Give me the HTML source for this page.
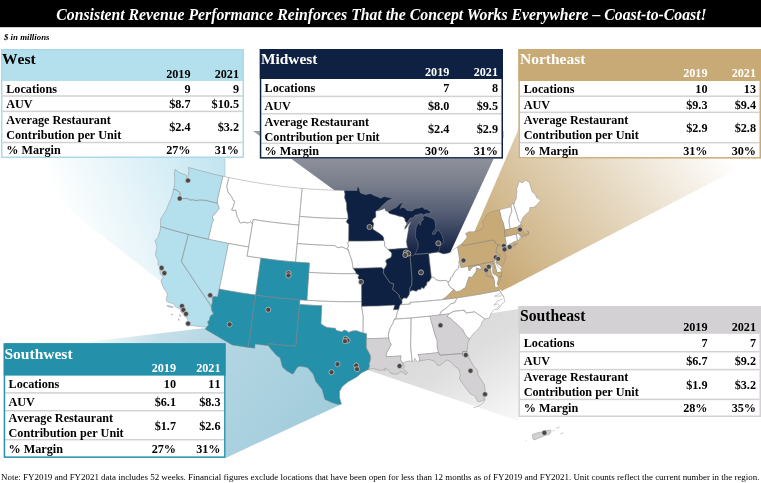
<!DOCTYPE html>
<html lang="en">
<head>
<meta charset="utf-8">
<title>Consistent Revenue Performance Reinforces That the Concept Works Everywhere – Coast-to-Coast!</title>
<style>
html,body{margin:0;padding:0;background:#fff;}
body{width:761px;height:483px;position:relative;overflow:hidden;font-family:"Liberation Serif",serif;color:#000;}
#title{position:absolute;left:-99px;top:0;width:961px;height:27px;margin:0;color:#fff;font-style:italic;font-weight:bold;font-size:17.6px;line-height:28.2px;text-align:center;white-space:nowrap;transform:scaleX(0.895);transform-origin:480.5px 0;}
#units{position:absolute;left:4px;top:32.3px;font-style:italic;font-weight:bold;font-size:8.8px;line-height:10px;white-space:nowrap;}
#note{position:absolute;left:1px;top:472px;font-size:8.93px;line-height:10px;white-space:nowrap;margin:0;}
#art{position:absolute;left:0;top:0;width:761px;height:483px;}
.st{stroke:#888;stroke-width:0.45;stroke-linejoin:round;}
.dot{fill:#4b4646;stroke:#dcdcdc;stroke-opacity:0.85;stroke-width:0.7;}
.tbl{position:absolute;}
.t{position:absolute;margin:0;white-space:nowrap;font-weight:bold;line-height:1;font-kerning:none;}
.t.h{font-size:16px;}
.t.c{font-size:12.2px;}
</style>
</head>
<body>
<svg id="art" width="761" height="483" viewBox="0 0 761 483">
<defs>
<linearGradient id="gW" gradientUnits="userSpaceOnUse" x1="70" y1="235" x2="228" y2="172"><stop offset="0" stop-color="#ffffff"/><stop offset="1" stop-color="#c2e5f1"/></linearGradient>
<linearGradient id="gM" gradientUnits="userSpaceOnUse" x1="0" y1="131" x2="0" y2="255"><stop offset="0.000" stop-color="#9c9ea7"/><stop offset="0.218" stop-color="#8e919a"/><stop offset="0.435" stop-color="#787d8b"/><stop offset="0.677" stop-color="#525b72"/><stop offset="0.879" stop-color="#283553"/><stop offset="1.000" stop-color="#101f40"/></linearGradient>
<linearGradient id="gN" gradientUnits="userSpaceOnUse" x1="470" y1="300" x2="700" y2="120"><stop offset="0" stop-color="#c8aa76"/><stop offset="0.13" stop-color="#c8aa76"/><stop offset="1" stop-color="#ffffff"/></linearGradient>
<linearGradient id="gS" gradientUnits="userSpaceOnUse" x1="440" y1="330" x2="503" y2="435"><stop offset="0" stop-color="#dadada"/><stop offset="0.3" stop-color="#dedede"/><stop offset="1" stop-color="#fafafa"/></linearGradient>
<linearGradient id="gSW" gradientUnits="userSpaceOnUse" x1="77" y1="343" x2="270.6" y2="488.2"><stop offset="0" stop-color="#ffffff"/><stop offset="0.256" stop-color="#c5dfe9"/><stop offset="0.45" stop-color="#b5d6e3"/><stop offset="0.77" stop-color="#aad1df"/><stop offset="1" stop-color="#a2ccdc"/></linearGradient>
</defs>
<rect id="titlebar" x="0" y="0" width="761" height="27.2" fill="#000"/>
<g id="beams">
<polygon fill="url(#gW)" points="2,158 225,158 225,200 200,312"/>
<polygon fill="url(#gM)" points="253,131 503.5,131 503.5,137.5 450,253 420,262 352,245 352,203"/>
<polygon fill="url(#gN)" points="519,128 761,157 502,291 480,275 466.5,250"/>
<polygon fill="url(#gS)" points="518.5,309 518.5,420.8 366,369.5 380,331"/>
<polygon fill="url(#gSW)" points="3.8,351.7 205,328 300,330 342,404 225.6,457.9 100,400"/>
</g>
<g id="map">
<path fill="#fff" d="M497.9,285.3L497.9,287.2L495.7,287.4L494.5,285.3L494.6,281.9L493.8,278.3L491.3,276.9L488.2,276.1L491.2,276.4L492.6,276.1L491.4,273.5L490.6,269.9L490.6,266.5L492.9,263.2L492.7,265.7L492.7,269.4L492.8,273.2L496.2,275.4L498.4,277.3L498.2,279.7L497.2,283.7Z"/><path fill="#fff" d="M496.6,260.1L495.8,262.6L497.9,266.4L500.6,268.7L501.8,267.2L499.5,265.1L496.4,262.9Z"/>
<path class="st" fill="#fff" d="M222.8,176.2L228.8,177.5L226.8,186.4L227.9,191.8L229.9,194.6L231.7,196.8L233.3,200.6L234.8,201.2L233.3,206.5L231.6,210.0L234.5,210.5L235.6,209.9L236.2,211.8L237.2,217.0L238.4,218.7L239.6,222.3L240.8,223.0L244.3,222.2L247.5,223.0L249.6,222.4L250.5,221.5L251.6,222.9L252.4,224.3L248.6,246.9L241.9,245.8L235.1,244.6L228.4,243.4L221.7,242.0L215.0,240.7L208.3,239.2L212.0,222.9L212.7,221.6L213.6,219.9L212.9,218.8L212.3,216.8L213.9,214.3L215.5,213.2L217.3,210.7L219.1,208.8L218.9,207.3L217.9,204.7L217.3,203.2L217.5,199.1ZM228.8,177.5L234.8,178.7L240.9,179.9L247.0,181.0L253.0,182.1L259.2,183.1L265.3,184.1L271.4,184.9L277.5,185.7L283.7,186.5L289.8,187.2L296.0,187.8L302.1,188.4L299.6,216.3L298.8,225.0L292.2,224.4L285.7,223.7L279.2,223.0L272.6,222.2L266.1,221.4L259.6,220.4L253.2,219.4L252.4,224.3L251.6,222.9L250.5,221.5L249.6,222.4L247.5,223.0L244.3,222.2L240.8,223.0L239.6,222.3L238.4,218.7L237.2,217.0L236.2,211.8L235.6,209.9L234.5,210.5L231.6,210.0L233.3,206.5L234.8,201.2L233.3,200.6L231.7,196.8L229.9,194.6L227.9,191.8L226.8,186.4ZM260.9,258.1L254.0,257.2L247.1,256.1L248.6,246.9L252.4,224.3L253.2,219.4L259.6,220.4L266.1,221.4L272.6,222.2L279.2,223.0L285.7,223.7L292.2,224.4L298.8,225.0L297.2,243.5L295.5,262.0L288.6,261.4L281.6,260.7L274.7,259.9L267.8,259.1ZM228.4,243.4L235.1,244.6L241.9,245.8L248.6,246.9L247.1,256.1L254.0,257.2L260.9,258.1L255.6,295.1L248.3,294.0L241.0,292.9L233.7,291.7L226.5,290.5L219.2,289.1ZM302.1,188.4L308.1,188.8L314.1,189.3L320.2,189.6L326.2,189.9L332.2,190.1L338.2,190.3L344.3,190.4L345.0,194.1L344.6,197.7L346.5,203.3L346.7,209.7L347.9,214.8L348.1,218.6L341.2,218.5L334.3,218.3L327.3,218.1L320.4,217.8L313.5,217.4L306.5,216.9L299.6,216.3ZM297.2,243.5L298.8,225.0L299.6,216.3L306.5,216.9L313.5,217.4L320.4,217.8L327.3,218.1L334.3,218.3L341.2,218.5L348.1,218.6L346.2,221.7L348.8,224.5L348.6,241.1L347.6,243.3L348.6,245.8L347.4,248.3L348.6,250.5L346.2,248.8L342.1,246.9L338.0,247.8L334.7,245.6L328.4,245.4L322.2,245.1L315.9,244.8L309.7,244.4L303.4,244.0ZM308.8,272.3L309.4,263.0L302.5,262.6L295.5,262.0L297.2,243.5L303.4,244.0L309.7,244.4L315.9,244.8L322.2,245.1L328.4,245.4L334.7,245.6L338.0,247.8L342.1,246.9L346.2,248.8L348.6,250.5L349.2,253.2L350.9,257.9L352.1,261.6L352.6,265.3L353.2,268.3L355.4,271.4L356.4,273.7L349.6,273.7L342.8,273.7L336.0,273.5L329.2,273.3L322.4,273.1L315.6,272.7ZM306.9,300.3L308.8,272.3L315.6,272.7L322.4,273.1L329.2,273.3L336.0,273.5L342.8,273.7L349.6,273.7L356.4,273.7L359.0,275.1L357.9,277.9L361.5,281.9L361.6,301.6L353.8,301.7L346.0,301.7L338.2,301.6L330.3,301.4L322.5,301.1L314.7,300.7ZM299.9,299.8L306.9,300.3L314.7,300.7L322.5,301.1L330.3,301.4L338.2,301.6L346.0,301.7L353.8,301.7L361.6,301.6L361.6,306.3L363.2,316.5L363.0,332.9L359.7,331.9L356.7,330.8L352.8,330.9L348.6,332.4L346.7,331.0L344.0,330.1L342.1,331.9L336.3,330.4L335.2,328.3L331.4,328.0L326.8,327.4L323.1,325.4L320.9,323.8L321.7,305.7L314.3,305.4L306.9,304.9L299.5,304.4ZM348.6,250.5L347.4,248.3L348.6,245.8L347.6,243.3L348.6,241.1L355.7,241.1L362.7,241.1L369.7,240.9L376.8,240.7L383.8,240.4L384.8,243.1L384.4,245.9L386.4,248.1L388.1,249.4L389.9,251.2L391.8,253.0L391.6,255.8L390.6,257.7L386.9,259.3L385.6,261.2L386.8,264.0L385.9,266.3L383.8,269.4L381.5,267.5L374.4,267.8L367.3,268.0L360.3,268.2L353.2,268.3L352.6,265.3L352.1,261.6L350.9,257.9L349.2,253.2ZM363.0,332.9L363.2,316.5L361.6,306.3L369.9,306.1L378.2,305.9L386.5,305.5L394.8,305.1L393.4,309.8L398.4,309.5L397.1,312.9L396.1,317.8L394.4,319.1L392.8,323.4L390.3,327.7L389.0,331.5L388.4,335.3L388.7,338.0L381.3,338.3L373.9,338.5L366.5,338.6L366.4,333.7ZM406.9,224.0L405.1,226.4L404.6,229.2L406.2,228.2L408.2,224.8L410.9,221.7L408.7,226.6L408.1,231.3L407.2,236.5L406.3,241.7L407.5,248.1L401.1,248.6L394.6,249.1L388.1,249.4L386.4,248.1L384.4,245.9L384.8,243.1L383.8,240.4L383.5,237.6L382.4,235.8L379.0,233.2L376.2,231.4L372.8,229.2L373.1,226.4L373.6,223.2L372.1,221.4L372.9,219.1L375.8,216.9L375.6,211.5L376.8,210.6L377.4,211.0L381.9,209.7L384.7,208.4L385.4,210.7L387.8,211.7L389.8,213.6L396.4,215.2L398.4,216.0L403.0,216.9L405.1,219.0L405.0,221.3L406.3,221.7ZM438.0,252.0L441.3,253.3L443.5,253.9L446.9,253.4L450.3,252.4L453.3,249.6L457.6,246.8L459.6,259.1L459.1,261.4L459.1,264.6L458.6,268.1L454.9,271.4L453.2,274.6L452.4,276.6L450.4,277.8L450.1,280.7L448.0,281.8L446.0,280.3L443.5,280.5L440.3,280.8L436.1,279.8L433.7,277.2L431.4,277.5L428.6,253.4ZM400.3,304.7L402.1,303.2L401.9,300.1L403.6,297.9L406.9,298.2L409.2,294.7L409.7,291.8L412.5,290.2L416.2,291.3L418.3,289.4L420.5,289.6L421.7,287.5L424.0,288.6L425.2,286.0L426.3,285.6L427.3,281.7L429.1,281.5L431.4,277.5L433.7,277.2L436.1,279.8L440.3,280.8L443.5,280.5L446.0,280.3L448.0,281.8L448.5,284.7L451.1,288.1L453.7,289.2L451.7,291.8L449.0,294.1L446.4,296.8L442.5,299.6L434.4,300.4L426.3,301.1L418.2,301.8L410.0,302.3L410.3,304.0ZM394.4,319.1L396.1,317.8L397.1,312.9L398.4,309.5L399.1,308.1L399.3,306.6L400.3,304.7L410.3,304.0L410.0,302.3L418.2,301.8L426.3,301.1L434.4,300.4L442.5,299.6L449.8,298.7L457.1,297.7L454.7,302.7L451.1,303.7L447.7,306.7L445.0,309.0L441.5,311.0L439.5,315.0L429.9,316.1L423.4,316.8L416.8,317.4L410.3,318.0L402.4,318.6ZM412.1,361.2L408.1,361.0L404.9,362.0L402.6,363.2L400.3,359.2L401.1,355.9L393.6,356.4L386.2,356.7L386.1,354.9L387.5,351.1L389.4,347.8L391.2,344.4L389.5,341.7L388.7,338.0L388.4,335.3L389.0,331.5L390.3,327.7L392.8,323.4L394.4,319.1L402.4,318.6L410.3,318.0L411.1,318.9L410.6,346.9ZM419.4,361.2L417.3,361.4L416.1,360.4L414.7,358.2L414.5,361.4L412.1,361.2L410.6,346.9L411.1,318.9L410.3,318.0L416.8,317.4L423.4,316.8L429.9,316.1L435.2,335.5L437.2,340.6L437.2,347.1L438.6,352.6L431.7,353.3L424.9,354.0L418.0,354.6L419.9,358.2ZM484.6,318.8L481.7,322.3L480.8,325.8L478.2,329.1L476.2,331.3L472.7,334.3L469.8,338.7L467.3,337.5L464.8,334.1L463.0,330.1L459.4,326.7L457.1,324.4L453.6,321.6L450.8,318.4L447.2,316.9L448.7,313.9L453.7,311.3L463.8,310.2L464.0,311.2L464.8,310.6L466.3,313.0L474.7,311.8ZM499.6,290.4L503.9,297.1L504.7,301.9L501.5,304.3L498.3,309.2L494.1,309.6L491.0,313.5L489.2,318.1L484.6,318.8L474.7,311.8L466.3,313.0L464.8,310.6L464.0,311.2L463.8,310.2L453.7,311.3L448.7,313.9L439.5,315.0L441.5,311.0L445.0,309.0L447.7,306.7L451.1,303.7L454.7,302.7L457.1,297.7L457.2,297.8L464.3,296.7L471.3,295.6L478.4,294.4L485.5,293.1L492.6,291.8ZM448.0,281.8L450.1,280.7L450.4,277.8L452.4,276.6L453.2,274.6L454.9,271.4L458.6,268.1L459.1,264.6L459.1,261.4L459.6,259.1L461.0,267.6L468.3,266.3L469.1,271.1L471.4,268.3L473.2,266.6L476.0,265.9L477.3,265.1L479.9,265.4L481.3,267.7L480.8,269.6L476.7,267.9L476.0,271.8L474.1,274.4L472.0,277.4L468.9,277.1L467.7,280.8L465.7,286.8L465.9,287.7L464.1,288.3L461.8,290.1L459.5,291.2L456.3,292.1L453.7,289.2L451.1,288.1L448.5,284.7ZM496.6,260.1L495.8,262.6L497.9,266.4L500.6,268.7L501.7,271.8L497.1,272.8L494.0,261.4L495.1,260.1ZM517.5,240.5L513.3,242.1L509.5,244.2L506.1,246.6L505.3,245.6L506.2,243.5L504.8,236.7L510.5,235.4L516.2,234.1ZM521.9,237.7L520.9,238.4L519.9,237.2L519.8,239.5L517.5,240.5L516.2,234.1L519.0,233.4L519.3,234.5L519.9,235.5L521.0,236.2ZM499.4,209.8L505.3,208.3L511.2,206.8L511.8,211.5L509.8,215.9L509.1,219.9L509.1,222.7L509.7,226.4L510.2,228.9L504.8,230.0L503.2,222.7L501.3,218.9L500.5,214.3ZM521.0,222.8L520.7,224.8L519.5,225.1L518.2,226.8L510.2,228.9L509.7,226.4L509.1,222.7L509.1,219.9L509.8,215.9L511.8,211.5L511.2,206.8L511.3,204.7L513.2,203.5L516.1,212.3L517.4,216.7L518.6,220.8ZM540.6,200.4L537.3,204.3L534.0,207.3L529.9,207.5L529.5,211.0L525.7,214.5L523.0,217.2L521.7,220.4L521.0,222.8L518.6,220.8L517.4,216.7L516.1,212.3L513.2,203.5L514.8,203.6L514.6,201.9L516.4,198.3L516.4,194.5L517.0,192.0L516.6,189.2L519.4,181.2L520.9,182.3L522.1,182.9L525.3,180.4L529.1,182.0L532.2,191.9L535.2,194.3L536.6,197.8L540.0,199.6Z"/>
<path class="st" fill="#b4e0ee" d="M188.5,167.4L194.2,169.0L199.9,170.6L205.6,172.0L211.3,173.5L217.1,174.9L222.8,176.2L217.5,199.1L217.3,203.2L204.3,200.1L202.5,200.3L200.3,199.9L196.0,200.6L193.2,199.8L189.5,200.0L187.7,198.5L184.5,198.6L182.7,198.7L179.8,196.9L180.1,194.8L180.1,192.7L178.5,191.5L176.8,190.2L173.4,189.1L174.4,187.2L174.4,184.8L174.6,182.4L174.9,179.1L174.3,173.7L175.1,169.3L178.4,172.0L182.4,173.9L186.2,175.0L186.6,177.3L185.8,180.9L185.7,182.8L186.8,181.2L187.7,177.6L188.6,174.1L189.0,170.4ZM160.6,226.6L160.5,222.7L160.8,218.5L163.3,214.8L166.4,209.9L168.7,203.8L171.0,198.7L173.0,192.5L173.4,189.1L176.8,190.2L178.5,191.5L180.1,192.7L180.1,194.8L179.8,196.9L182.7,198.7L184.5,198.6L187.7,198.5L189.5,200.0L193.2,199.8L196.0,200.6L200.3,199.9L202.5,200.3L204.3,200.1L217.3,203.2L217.9,204.7L218.9,207.3L219.1,208.8L217.3,210.7L215.5,213.2L213.9,214.3L212.3,216.8L212.9,218.8L213.6,219.9L212.7,221.6L212.0,222.9L208.3,239.2L201.6,237.7L195.0,236.1L188.4,234.4L181.5,232.6L174.5,230.7L167.5,228.7ZM187.7,325.1L187.4,322.0L187.5,319.6L184.1,314.1L180.7,311.8L180.6,309.1L175.6,306.8L173.3,303.8L167.0,301.7L166.3,300.5L166.7,297.3L167.4,295.0L166.3,291.8L164.0,288.8L161.2,282.2L161.6,279.4L163.2,277.9L162.2,276.1L160.0,273.1L160.1,270.3L160.9,267.6L157.9,264.8L158.3,261.0L155.5,255.3L155.9,251.5L157.0,247.9L156.1,243.8L155.0,240.5L158.0,237.5L158.4,235.2L160.0,231.3L160.6,226.6L167.5,228.7L174.5,230.7L181.5,232.6L188.4,234.4L181.3,261.5L211.3,306.6L211.4,308.5L212.2,311.5L213.6,313.9L211.4,315.1L210.1,316.8L209.3,320.4L207.7,321.5L208.6,325.0L206.4,327.3ZM188.4,234.4L195.0,236.1L201.6,237.7L208.3,239.2L215.0,240.7L221.7,242.0L228.4,243.4L219.2,289.1L217.7,296.9L215.1,296.4L212.4,297.1L212.5,302.1L211.3,306.6L181.3,261.5Z"/>
<path class="st" fill="#2490a9" d="M248.1,347.4L232.2,345.0L205.3,329.2L206.4,327.3L208.6,325.0L207.7,321.5L209.3,320.4L210.1,316.8L211.4,315.1L213.6,313.9L212.2,311.5L211.4,308.5L211.3,306.6L212.5,302.1L212.4,297.1L215.1,296.4L217.7,296.9L219.2,289.1L226.5,290.5L233.7,291.7L241.0,292.9L248.3,294.0L255.6,295.1ZM268.4,345.7L255.2,344.1L254.7,348.2L248.1,347.4L255.6,295.1L262.9,296.1L270.3,297.0L277.7,297.8L285.1,298.5L292.5,299.2L299.9,299.8L299.5,304.4L295.8,346.2L288.8,345.6L281.8,345.0L274.9,344.3L267.9,343.6ZM255.6,295.1L260.9,258.1L267.8,259.1L274.7,259.9L281.6,260.7L288.6,261.4L295.5,262.0L302.5,262.6L309.4,263.0L308.8,272.3L306.9,300.3L299.9,299.8L292.5,299.2L285.1,298.5L277.7,297.8L270.3,297.0L262.9,296.1ZM341.3,403.9L338.3,404.6L332.4,402.8L324.9,399.5L322.0,389.3L315.7,381.6L313.2,374.1L307.5,367.6L300.3,366.3L297.3,367.3L293.2,374.0L291.6,373.7L286.2,370.5L282.4,366.9L280.1,357.9L276.3,355.2L270.6,348.8L268.4,345.7L267.9,343.6L274.9,344.3L281.8,345.0L288.8,345.6L295.8,346.2L299.5,304.4L306.9,304.9L314.3,305.4L321.7,305.7L320.9,323.8L323.1,325.4L326.8,327.4L331.4,328.0L335.2,328.3L336.3,330.4L342.1,331.9L344.0,330.1L346.7,331.0L348.6,332.4L352.8,330.9L356.7,330.8L359.7,331.9L363.0,332.9L366.4,333.7L366.5,338.6L366.6,348.2L368.6,351.8L370.6,355.6L370.7,359.1L369.4,363.8L369.7,366.1L368.6,369.4L361.7,372.7L356.8,376.9L347.8,382.0L342.4,386.6L339.5,391.6L339.7,398.0Z"/>
<path class="st" fill="#0e2142" d="M344.3,190.4L350.7,190.5L357.1,190.5L357.1,187.0L359.0,187.5L359.8,191.4L360.6,193.0L365.6,194.7L368.1,193.9L370.9,193.7L374.0,195.6L376.9,196.4L380.7,198.3L384.1,196.6L388.9,197.6L392.7,198.3L387.8,200.7L383.5,204.3L379.3,208.7L376.8,210.6L375.6,211.5L375.8,216.9L372.9,219.1L372.1,221.4L373.6,223.2L373.1,226.4L372.8,229.2L376.2,231.4L379.0,233.2L382.4,235.8L383.5,237.6L383.8,240.4L376.8,240.7L369.7,240.9L362.7,241.1L355.7,241.1L348.6,241.1L348.8,224.5L346.2,221.7L348.1,218.6L347.9,214.8L346.7,209.7L346.5,203.3L344.6,197.7L345.0,194.1ZM356.4,273.7L355.4,271.4L353.2,268.3L360.3,268.2L367.3,268.0L374.4,267.8L381.5,267.5L383.8,269.4L383.3,273.0L386.4,277.5L389.5,282.0L390.6,283.1L393.5,283.7L393.3,286.5L392.4,289.3L395.4,291.5L399.0,295.0L399.5,297.8L401.9,300.1L402.1,303.2L400.3,304.7L399.3,306.6L399.1,308.1L398.4,309.5L393.4,309.8L394.8,305.1L386.5,305.5L378.2,305.9L369.9,306.1L361.6,306.3L361.6,301.6L361.5,281.9L357.9,277.9L359.0,275.1ZM407.5,248.1L409.0,252.6L410.0,254.8L411.9,277.2L411.7,285.1L409.8,288.1L409.7,291.8L409.2,294.7L406.9,298.2L403.6,297.9L401.9,300.1L399.5,297.8L399.0,295.0L395.4,291.5L392.4,289.3L393.3,286.5L393.5,283.7L390.6,283.1L389.5,282.0L386.4,277.5L383.3,273.0L383.8,269.4L385.9,266.3L386.8,264.0L385.6,261.2L386.9,259.3L390.6,257.7L391.6,255.8L391.8,253.0L389.9,251.2L388.1,249.4L394.6,249.1L401.1,248.6ZM414.8,254.3L416.1,252.0L418.1,247.1L418.0,242.5L415.4,237.1L415.4,233.4L416.1,227.7L417.2,224.8L419.6,222.3L420.2,225.4L421.1,221.6L423.5,219.5L422.6,217.3L424.8,215.8L428.5,216.8L433.3,218.8L435.1,221.8L435.8,227.8L434.2,230.8L432.4,232.4L432.7,234.7L435.3,233.9L436.3,231.4L438.9,230.2L441.4,234.0L443.4,239.4L443.3,242.7L441.2,244.8L439.7,246.9L439.4,249.3L438.0,252.0L428.6,253.4L421.7,253.9ZM387.8,211.7L392.7,209.0L396.5,207.2L400.0,203.5L403.8,202.5L401.4,205.0L400.1,208.8L401.6,207.3L404.8,207.9L407.0,210.5L412.2,210.9L415.2,208.6L419.0,208.1L422.4,206.9L425.0,209.6L426.6,208.9L428.4,210.5L431.8,212.0L428.7,213.6L425.5,213.7L424.0,215.1L420.9,213.6L417.8,214.8L414.9,215.3L413.5,217.3L412.2,217.9L410.3,218.1L408.5,220.6L406.9,224.0L406.3,221.7L405.0,221.3L405.1,219.0L403.0,216.9L398.4,216.0L396.4,215.2L389.8,213.6ZM410.0,254.8L412.3,255.9L414.8,254.3L421.7,253.9L428.6,253.4L431.4,277.5L429.1,281.5L427.3,281.7L426.3,285.6L425.2,286.0L424.0,288.6L421.7,287.5L420.5,289.6L418.3,289.4L416.2,291.3L412.5,290.2L409.7,291.8L409.8,288.1L411.7,285.1L411.9,277.2Z"/>
<path class="st" fill="#d3d1d3" d="M402.6,363.2L403.8,364.1L401.9,365.1L404.8,366.3L402.9,368.3L405.5,370.9L407.7,373.1L404.9,374.7L403.1,372.0L399.9,371.8L398.3,373.7L394.3,374.4L390.1,372.8L388.4,370.1L384.7,367.9L385.2,370.7L382.7,369.9L378.7,370.2L373.8,368.5L368.6,369.4L369.7,366.1L369.4,363.8L370.7,359.1L370.6,355.6L368.6,351.8L366.6,348.2L366.5,338.6L373.9,338.5L381.3,338.3L388.7,338.0L389.5,341.7L391.2,344.4L389.4,347.8L387.5,351.1L386.1,354.9L386.2,356.7L393.6,356.4L401.1,355.9L400.3,359.2ZM469.8,338.7L468.0,342.1L467.5,346.8L467.0,351.4L465.0,351.4L462.6,351.5L462.7,355.4L461.3,353.6L440.0,355.2L438.6,352.6L437.2,347.1L437.2,340.6L435.2,335.5L429.9,316.1L439.5,315.0L448.7,313.9L447.2,316.9L450.8,318.4L453.6,321.6L457.1,324.4L459.4,326.7L463.0,330.1L464.8,334.1L467.3,337.5ZM467.0,351.4L468.0,355.2L469.9,359.6L473.4,365.5L477.6,370.5L478.1,375.1L482.6,381.8L484.6,385.2L485.4,392.5L485.2,395.3L483.9,400.1L479.8,401.7L477.6,401.6L475.0,396.0L470.4,393.9L467.8,390.6L465.2,387.2L461.6,382.2L459.4,378.8L460.4,374.0L458.5,368.7L455.8,367.2L451.1,362.2L447.5,359.9L444.5,361.7L440.0,365.4L437.2,365.1L436.5,363.0L433.9,361.0L428.9,359.4L421.7,360.5L419.4,361.2L419.9,358.2L418.0,354.6L424.9,354.0L431.7,353.3L438.6,352.6L440.0,355.2L461.3,353.6L462.7,355.4L462.6,351.5L465.0,351.4Z"/>
<path class="st" fill="#c8aa76" d="M493.8,278.3L494.6,281.9L494.5,285.3L495.7,287.4L497.9,287.2L499.6,290.4L492.6,291.8L485.5,293.1L478.4,294.4L471.3,295.6L464.3,296.7L457.2,297.8L457.1,297.7L449.8,298.7L442.5,299.6L446.4,296.8L449.0,294.1L451.7,291.8L453.7,289.2L456.3,292.1L459.5,291.2L461.8,290.1L464.1,288.3L465.9,287.7L465.7,286.8L467.7,280.8L468.9,277.1L472.0,277.4L474.1,274.4L476.0,271.8L476.7,267.9L480.8,269.6L481.3,267.7L483.2,269.5L485.2,270.3L487.0,271.6L486.2,275.5L488.2,276.1L491.3,276.9ZM501.5,275.9L499.7,281.3L497.9,285.3L497.2,283.7L498.2,279.7L498.4,277.3ZM498.4,277.3L496.2,275.4L492.8,273.2L492.7,269.4L492.7,265.7L492.9,263.2L490.6,266.5L490.6,269.9L491.4,273.5L492.6,276.1L493.8,278.3L491.3,276.9L488.2,276.1L486.2,275.5L487.0,271.6L485.2,270.3L483.2,269.5L481.3,267.7L479.9,265.4L477.3,265.1L476.0,265.9L473.2,266.6L471.4,268.3L469.1,271.1L468.3,266.3L474.7,265.2L481.2,264.0L487.6,262.7L494.0,261.4L497.1,272.8L501.7,271.8L501.5,275.9ZM457.6,246.8L460.2,244.8L462.3,243.3L462.8,245.7L470.2,244.4L477.7,243.0L485.1,241.5L492.5,240.0L494.8,240.9L495.3,243.2L498.2,244.8L496.3,249.1L496.2,252.0L497.8,254.1L500.3,255.9L498.4,258.7L496.6,260.1L495.1,260.1L494.0,261.4L487.6,262.7L481.2,264.0L474.7,265.2L468.3,266.3L461.0,267.6L459.6,259.1ZM504.1,249.8L503.1,252.1L504.9,252.2L505.7,258.0L504.3,262.1L501.8,267.2L499.5,265.1L496.4,262.9L496.6,260.1L498.4,258.7L500.3,255.9L497.8,254.1L496.2,252.0L496.3,249.1L498.2,244.8L504.4,246.8ZM506.1,246.6L505.7,247.9L507.9,246.7L513.3,245.0L514.9,242.8L514.4,245.1L518.1,242.8L514.3,246.2L509.3,249.2L505.0,250.8L504.1,249.8L504.4,246.8L498.2,244.8L495.3,243.2L494.8,240.9L492.5,240.0L485.1,241.5L477.7,243.0L470.2,244.4L462.8,245.7L462.3,243.3L466.1,238.6L467.2,236.9L465.5,233.4L469.0,231.7L475.2,231.7L479.1,230.6L482.1,228.4L483.8,226.6L483.2,223.9L481.8,222.3L484.8,218.4L487.2,214.2L490.8,211.9L499.4,209.8L500.5,214.3L501.3,218.9L503.2,222.7L504.8,230.0L504.8,236.7L506.2,243.5L505.3,245.6ZM520.7,224.8L522.7,226.4L521.1,228.3L520.6,230.0L523.1,230.6L524.0,232.8L525.5,234.0L528.7,232.9L528.2,232.1L526.7,230.9L528.4,231.1L529.4,234.0L527.2,235.0L525.1,236.5L524.2,234.6L522.8,237.4L521.9,237.7L521.0,236.2L519.9,235.5L519.3,234.5L519.0,233.4L516.2,234.1L510.5,235.4L504.8,236.7L504.8,230.0L510.2,228.9L518.2,226.8L519.5,225.1Z"/>
<path class="st" fill="none" d="M499.7,293.7L494.5,296.2L499.1,296.2L501.6,295.7M502.3,298.9L497.1,301.4L494.0,305.3L497.6,303.7L499.5,305.6L497.0,308.4M499.6,290.4L501.1,293.4L503.9,297.1"/>
<path class="st" fill="#d3d1d3" d="M532.3,434.6L536,433.2L541,432L546,430.6L550.6,430L551,431.6L550,433.8L545,435.6L540,437.6L534,440L532.8,438.2Z"/><path class="st" fill="none" d="M556,428.2L559.6,427M560.4,434L563.2,432.8M552.6,431l2-.7M525.6,440.8l.8-.3"/>
<path class="st" fill="none" d="M485.2,398.5L484.6,401L482.5,403.6L478.3,406.3L473.2,407.8"/>
<path class="st" fill="#b4e0ee" d="M166.8,305.4l3.2,.5l3.4,1.2l-2.6,.3l-3,-.9zM171.4,314l1.2,.6l-1,.4zM179.6,314.6l1.2,1.6l-.9,.1zM178.4,318.6l1,1.8l-.9,-.3z"/>
<path d="M225,158.5V176.6" fill="none" stroke="#9fb3ba" stroke-width="0.5"/>
</g>
<g id="dots">
<circle class="dot" cx="188" cy="180.5" r="2.55"/>
<circle class="dot" cx="179.7" cy="198.5" r="2.55"/>
<circle class="dot" cx="161.6" cy="267.9" r="2.55"/>
<circle class="dot" cx="164.4" cy="273.1" r="2.55"/>
<circle class="dot" cx="182" cy="306" r="2.55"/>
<circle class="dot" cx="183.4" cy="309.9" r="2.55"/>
<circle class="dot" cx="186" cy="313.9" r="2.55"/>
<circle class="dot" cx="188.1" cy="323.6" r="2.55"/>
<circle class="dot" cx="210.2" cy="295.2" r="2.55"/>
<circle class="dot" cx="229.6" cy="324.4" r="2.55"/>
<circle class="dot" cx="268.3" cy="309.7" r="2.55"/>
<circle class="dot" cx="288.5" cy="273.1" r="2.55"/>
<circle class="dot" cx="288.5" cy="275.5" r="2.55"/>
<circle class="dot" cx="345.7" cy="338.7" r="2.55"/>
<circle class="dot" cx="347.5" cy="340.5" r="2.55"/>
<circle class="dot" cx="345" cy="341.2" r="2.55"/>
<circle class="dot" cx="337.5" cy="364.2" r="2.55"/>
<circle class="dot" cx="331.5" cy="372.2" r="2.55"/>
<circle class="dot" cx="356.2" cy="365.5" r="2.55"/>
<circle class="dot" cx="357" cy="369.2" r="2.55"/>
<circle class="dot" cx="399.5" cy="366" r="2.55"/>
<circle class="dot" cx="440.5" cy="325.3" r="2.55"/>
<circle class="dot" cx="465.8" cy="355" r="2.55"/>
<circle class="dot" cx="470.5" cy="370.8" r="2.55"/>
<circle class="dot" cx="485" cy="394.2" r="2.55"/>
<circle class="dot" cx="369.5" cy="227" r="2.55"/>
<circle class="dot" cx="361" cy="281.9" r="2.55"/>
<circle class="dot" cx="405.8" cy="252.5" r="2.55"/>
<circle class="dot" cx="408.3" cy="253.5" r="2.55"/>
<circle class="dot" cx="405.3" cy="255" r="2.55"/>
<circle class="dot" cx="421" cy="272.4" r="2.55"/>
<circle class="dot" cx="438.3" cy="243.3" r="2.55"/>
<circle class="dot" cx="520" cy="229.5" r="2.55"/>
<circle class="dot" cx="503.8" cy="245.8" r="2.55"/>
<circle class="dot" cx="509.7" cy="247" r="2.55"/>
<circle class="dot" cx="504.5" cy="249.4" r="2.55"/>
<circle class="dot" cx="463.5" cy="260.4" r="2.55"/>
<circle class="dot" cx="495.7" cy="257.3" r="2.55"/>
<circle class="dot" cx="498.2" cy="258.8" r="2.55"/>
<circle class="dot" cx="486.2" cy="269.9" r="2.55"/>
<circle class="dot" cx="488.8" cy="266.7" r="2.55"/>
<circle class="dot" cx="544.4" cy="432.8" r="2.55"/>
</g>
<g id="tableboxes">
<g id="box-west">
<rect x="1" y="49" width="243.0" height="109.0" fill="#fff"/>
<rect x="1" y="49" width="243.0" height="32.0" fill="#b4e0ee"/>
<rect x="2.50" y="95.25" width="240.0" height="1.5" fill="#d2d2d2"/>
<rect x="2.50" y="110.65" width="240.0" height="1.5" fill="#d2d2d2"/>
<rect x="2.50" y="141.75" width="240.0" height="1.5" fill="#d2d2d2"/>
<rect x="1.75" y="49.75" width="241.5" height="107.5" fill="none" stroke="#a9d9ea" stroke-width="1.5"/>
</g>
<g id="box-midwest">
<rect x="259.8" y="49" width="243.2" height="109.6" fill="#fff"/>
<rect x="259.8" y="49" width="243.2" height="30.0" fill="#0e2142"/>
<rect x="261.30" y="95.65" width="240.2" height="1.5" fill="#d2d2d2"/>
<rect x="261.30" y="112.95" width="240.2" height="1.5" fill="#d2d2d2"/>
<rect x="261.30" y="142.55" width="240.2" height="1.5" fill="#d2d2d2"/>
<rect x="260.55" y="49.75" width="241.7" height="108.1" fill="none" stroke="#0e2142" stroke-width="1.5"/>
</g>
<g id="box-northeast">
<rect x="518.4" y="49" width="242.6" height="109.6" fill="#fff"/>
<rect x="518.4" y="49" width="242.6" height="32.0" fill="#c8aa76"/>
<rect x="519.90" y="95.45" width="239.6" height="1.5" fill="#d2d2d2"/>
<rect x="519.90" y="111.55" width="239.6" height="1.5" fill="#d2d2d2"/>
<rect x="519.90" y="141.95" width="239.6" height="1.5" fill="#d2d2d2"/>
<rect x="519.15" y="49.75" width="241.1" height="108.1" fill="none" stroke="#c8aa76" stroke-width="1.5"/>
</g>
<g id="box-southeast">
<rect x="518.4" y="306.2" width="242.6" height="110.8" fill="#fff"/>
<rect x="518.4" y="306.2" width="242.6" height="27.6" fill="#d3d1d3"/>
<rect x="519.90" y="350.95" width="239.6" height="1.5" fill="#d2d2d2"/>
<rect x="519.90" y="368.85" width="239.6" height="1.5" fill="#d2d2d2"/>
<rect x="519.90" y="398.65" width="239.6" height="1.5" fill="#d2d2d2"/>
<rect x="519.15" y="306.95" width="241.1" height="109.3" fill="none" stroke="#d3d1d3" stroke-width="1.5"/>
</g>
<g id="box-southwest">
<rect x="3.7" y="343.3" width="221.9" height="114.6" fill="#fff"/>
<rect x="3.7" y="343.3" width="221.9" height="32.3" fill="#2490a9"/>
<rect x="5.20" y="392.15" width="218.9" height="1.5" fill="#d2d2d2"/>
<rect x="5.20" y="409.95" width="218.9" height="1.5" fill="#d2d2d2"/>
<rect x="5.20" y="438.95" width="218.9" height="1.5" fill="#d2d2d2"/>
<rect x="4.45" y="344.05" width="220.4" height="113.1" fill="none" stroke="#2490a9" stroke-width="1.5"/>
</g>
</g>
</svg>
<h1 id="title">Consistent Revenue Performance Reinforces That the Concept Works Everywhere – Coast-to-Coast!</h1>
<div id="units">$ in millions</div>
<section class="tbl" id="west" style="left:1px;top:49px;width:243px;height:109px;">
<h2 class="t h" style="top:1.85px;font-size:15.6px;left:1.00px;color:#000;">West</h2>
<div class="t c" style="top:19.05px;right:53.50px;color:#000;">2019</div>
<div class="t c" style="top:19.05px;right:5.00px;color:#000;">2021</div>
<div class="t c" style="top:34.05px;left:5.20px;">Locations</div>
<div class="t c" style="top:34.05px;right:53.50px;">9</div>
<div class="t c" style="top:34.05px;right:5.00px;">9</div>
<div class="t c" style="top:49.05px;left:5.20px;">AUV</div>
<div class="t c" style="top:49.05px;right:53.50px;">$8.7</div>
<div class="t c" style="top:49.05px;right:5.00px;">$10.5</div>
<div class="t c" style="top:65.05px;left:5.20px;">Average Restaurant</div>
<div class="t c" style="top:80.05px;left:5.20px;">Contribution per Unit</div>
<div class="t c" style="top:72.05px;right:53.50px;">$2.4</div>
<div class="t c" style="top:72.05px;right:5.00px;">$3.2</div>
<div class="t c" style="top:95.05px;left:5.20px;">% Margin</div>
<div class="t c" style="top:95.05px;right:53.50px;">27%</div>
<div class="t c" style="top:95.05px;right:5.00px;">31%</div>
</section>
<section class="tbl" id="midwest" style="left:259px;top:49px;width:244px;height:110px;">
<h2 class="t h" style="top:1.95px;font-size:15.4px;left:2.00px;color:#fff;">Midwest</h2>
<div class="t c" style="top:17.05px;right:53.70px;color:#fff;">2019</div>
<div class="t c" style="top:17.05px;right:5.00px;color:#fff;">2021</div>
<div class="t c" style="top:33.05px;left:5.50px;">Locations</div>
<div class="t c" style="top:33.05px;right:53.70px;">7</div>
<div class="t c" style="top:33.05px;right:5.00px;">8</div>
<div class="t c" style="top:51.05px;left:5.50px;">AUV</div>
<div class="t c" style="top:51.05px;right:53.70px;">$8.0</div>
<div class="t c" style="top:51.05px;right:5.00px;">$9.5</div>
<div class="t c" style="top:67.05px;left:5.50px;">Average Restaurant</div>
<div class="t c" style="top:82.05px;left:5.50px;">Contribution per Unit</div>
<div class="t c" style="top:74.05px;right:53.70px;">$2.4</div>
<div class="t c" style="top:74.05px;right:5.00px;">$2.9</div>
<div class="t c" style="top:96.05px;left:5.50px;">% Margin</div>
<div class="t c" style="top:96.05px;right:53.70px;">30%</div>
<div class="t c" style="top:96.05px;right:5.00px;">31%</div>
</section>
<section class="tbl" id="northeast" style="left:518px;top:49px;width:243px;height:110px;">
<h2 class="t h" style="top:1.90px;font-size:15.5px;left:2.00px;color:#fff;">Northeast</h2>
<div class="t c" style="top:18.05px;right:53.50px;color:#fff;">2019</div>
<div class="t c" style="top:18.05px;right:5.00px;color:#fff;">2021</div>
<div class="t c" style="top:34.05px;left:5.70px;">Locations</div>
<div class="t c" style="top:34.05px;right:53.50px;">10</div>
<div class="t c" style="top:34.05px;right:5.00px;">13</div>
<div class="t c" style="top:50.05px;left:5.70px;">AUV</div>
<div class="t c" style="top:50.05px;right:53.50px;">$9.3</div>
<div class="t c" style="top:50.05px;right:5.00px;">$9.4</div>
<div class="t c" style="top:65.05px;left:5.70px;">Average Restaurant</div>
<div class="t c" style="top:80.05px;left:5.70px;">Contribution per Unit</div>
<div class="t c" style="top:73.05px;right:53.50px;">$2.9</div>
<div class="t c" style="top:73.05px;right:5.00px;">$2.8</div>
<div class="t c" style="top:96.05px;left:5.70px;">% Margin</div>
<div class="t c" style="top:96.05px;right:53.50px;">31%</div>
<div class="t c" style="top:96.05px;right:5.00px;">30%</div>
</section>
<section class="tbl" id="southeast" style="left:518px;top:306px;width:243px;height:111px;">
<h2 class="t h" style="top:1.80px;font-size:15.7px;left:2.00px;color:#000;">Southeast</h2>
<div class="t c" style="top:15.05px;right:53.50px;color:#000;">2019</div>
<div class="t c" style="top:15.05px;right:5.00px;color:#000;">2021</div>
<div class="t c" style="top:31.05px;left:5.70px;">Locations</div>
<div class="t c" style="top:31.05px;right:53.50px;">7</div>
<div class="t c" style="top:31.05px;right:5.00px;">7</div>
<div class="t c" style="top:49.05px;left:5.70px;">AUV</div>
<div class="t c" style="top:49.05px;right:53.50px;">$6.7</div>
<div class="t c" style="top:49.05px;right:5.00px;">$9.2</div>
<div class="t c" style="top:65.05px;left:5.70px;">Average Restaurant</div>
<div class="t c" style="top:80.05px;left:5.70px;">Contribution per Unit</div>
<div class="t c" style="top:73.05px;right:53.50px;">$1.9</div>
<div class="t c" style="top:73.05px;right:5.00px;">$3.2</div>
<div class="t c" style="top:96.05px;left:5.70px;">% Margin</div>
<div class="t c" style="top:96.05px;right:53.50px;">28%</div>
<div class="t c" style="top:96.05px;right:5.00px;">35%</div>
</section>
<section class="tbl" id="southwest" style="left:3px;top:343px;width:223px;height:115px;">
<h2 class="t h" style="top:2.90px;font-size:15.5px;left:1.50px;color:#fff;">Southwest</h2>
<div class="t c" style="top:19.05px;right:50.00px;color:#fff;">2019</div>
<div class="t c" style="top:19.05px;right:5.50px;color:#fff;">2021</div>
<div class="t c" style="top:35.05px;left:5.50px;">Locations</div>
<div class="t c" style="top:35.05px;right:50.00px;">10</div>
<div class="t c" style="top:35.05px;right:5.50px;">11</div>
<div class="t c" style="top:53.05px;left:5.50px;">AUV</div>
<div class="t c" style="top:53.05px;right:50.00px;">$6.1</div>
<div class="t c" style="top:53.05px;right:5.50px;">$8.3</div>
<div class="t c" style="top:69.05px;left:5.50px;">Average Restaurant</div>
<div class="t c" style="top:84.05px;left:5.50px;">Contribution per Unit</div>
<div class="t c" style="top:77.05px;right:50.00px;">$1.7</div>
<div class="t c" style="top:77.05px;right:5.50px;">$2.6</div>
<div class="t c" style="top:100.05px;left:5.50px;">% Margin</div>
<div class="t c" style="top:100.05px;right:50.00px;">27%</div>
<div class="t c" style="top:100.05px;right:5.50px;">31%</div>
</section>
<p id="note">Note: FY2019 and FY2021 data includes 52 weeks. Financial figures exclude locations that have been open for less than 12 months as of FY2019 and FY2021. Unit counts reflect the current number in the region.</p>
</body>
</html>
